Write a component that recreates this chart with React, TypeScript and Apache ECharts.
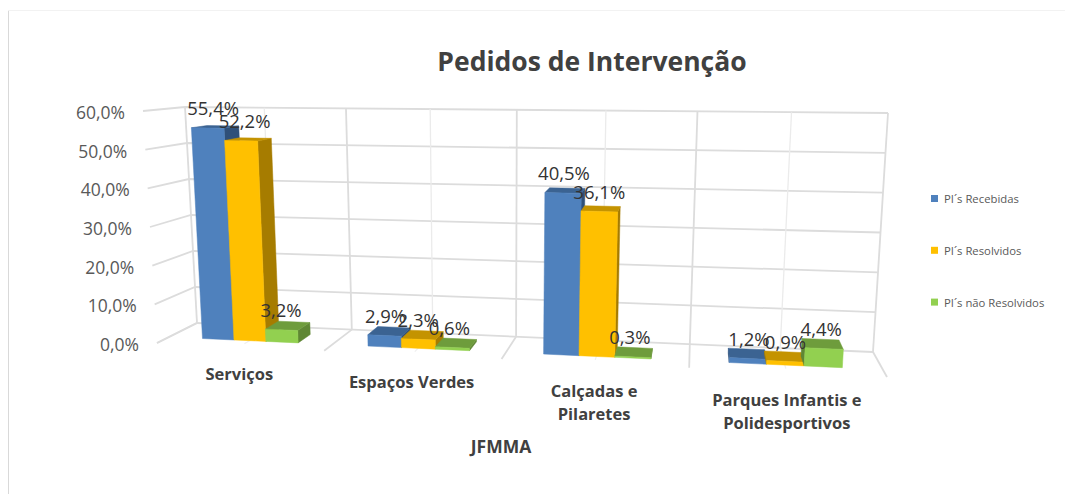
import React, { useEffect, useRef } from "react";
import * as echarts from "echarts";

const categories = ["Serviços", "Espaços Verdes", "Calçadas e\nPilaretes", "Parques Infantis e\nPolidesportivos"];
const seriesNames = ["PI´s Recebidas", "PI´s Resolvidos", "PI´s não Resolvidos"];
const recebidas = [55.4, 2.9, 40.5, 1.2];
const resolvidos = [52.2, 2.3, 36.1, 0.9];
const naoResolvidos = [3.2, 0.6, 0.3, 4.4];
const seriesValues = [recebidas, resolvidos, naoResolvidos];
const tickValues = [0, 10, 20, 30, 40, 50, 60];
const majorDivisions = [0, 1, 2, 3, 4];
const minorDivisions = [0.5, 1.5, 2.5, 3.5];

const faceColors = [
  { front: "#4F81BD", top: "#3B6392", side: "#2F5079" },
  { front: "#FFC000", top: "#C49300", side: "#A67C00" },
  { front: "#92D050", top: "#6E9C3C", side: "#5F8734" },
];
const FONT = '"Open Sans", sans-serif';
const grid = { left: 100, top: 100, width: 800, height: 240 };
const BAR_D0 = 0.3;
const BAR_D1 = 0.7;
const BAR_START = 0.21;
const BAR_WIDTH = 0.195;
const LABEL_DX = [1, 0, -3];

const corners = {
  f00: [157, 343], f10: [887, 377], f01: [143, 111], f11: [903, 122],
  b00: [197, 323], b10: [873, 352], b01: [185, 107], b11: [888, 113],
};
const lerp = (a: number, b: number, t: number) => a + (b - a) * t;
const warp = (u: number) => u * (0.888 + 0.112 * u);
function project(u: number, v: number, d: number): number[] {
  const w = warp(u);
  const c = corners;
  return [0, 1].map((k) =>
    lerp(
      lerp(lerp(c.f00[k], c.f10[k], w), lerp(c.f01[k], c.f11[k], w), v),
      lerp(lerp(c.b00[k], c.b10[k], w), lerp(c.b01[k], c.b11[k], w), v),
      d,
    ),
  );
}
const normV = (api: any, val: number) => (grid.top + grid.height - api.coord([0, val])[1]) / grid.height;
const normDiv = (api: any, div: number) => {
  const band = api.size([1, 0])[0];
  return (api.coord([0, 0])[0] - band / 2 + band * div - grid.left) / grid.width;
};

const barBox = (api: any, seriesIndex: number) => {
  const cat = api.value(0);
  const band = api.size([1, 0])[0];
  const x = api.coord([cat, 0])[0] - band / 2 + band * (BAR_START + BAR_WIDTH * seriesIndex);
  return { u0: (x - grid.left) / grid.width, u1: (x + band * BAR_WIDTH - grid.left) / grid.width, v: normV(api, api.value(1)) };
};

const poly = (pts: number[][], fill: string) => ({
  type: "polygon",
  silent: true,
  shape: { points: pts },
  style: { fill, stroke: fill, lineWidth: 0.5 },
});

const barRender = (seriesIndex: number) => (_: any, api: any) => {
  const { u0, u1, v } = barBox(api, seriesIndex);
  const col = faceColors[seriesIndex];
  const children: any[] = [];
  if (project(u0, v, BAR_D1)[0] < project(u0, v, BAR_D0)[0]) {
    children.push(poly([project(u0, 0, BAR_D0), project(u0, 0, BAR_D1), project(u0, v, BAR_D1), project(u0, v, BAR_D0)], col.side));
  }
  if (project(u1, v, BAR_D1)[0] > project(u1, v, BAR_D0)[0]) {
    children.push(poly([project(u1, 0, BAR_D0), project(u1, 0, BAR_D1), project(u1, v, BAR_D1), project(u1, v, BAR_D0)], col.side));
  }
  children.push(poly([project(u0, v, BAR_D0), project(u1, v, BAR_D0), project(u1, v, BAR_D1), project(u0, v, BAR_D1)], col.top));
  children.push(poly([project(u0, 0, BAR_D0), project(u1, 0, BAR_D0), project(u1, v, BAR_D0), project(u0, v, BAR_D0)], col.front));
  return { type: "group", children };
};

const fmt = (n: number) => n.toFixed(1).replace(".", ",") + "%";

const labelRender = (seriesIndex: number) => (_: any, api: any) => {
  const { u0, u1, v } = barBox(api, seriesIndex);
  const u = (u0 + u1) / 2;
  const p = project(u, v, BAR_D0);
  const dx = LABEL_DX[seriesIndex] + 6 * Math.max(0, 1 - u / 0.3);
  return {
    type: "text",
    silent: true,
    style: {
      x: p[0] + dx, y: p[1] - 20, text: fmt(api.value(1)), fill: "#333333",
      font: `18.5px ${FONT}`, align: "center", verticalAlign: "middle",
    },
  };
};

const line = (a: number[], b: number[], stroke: string, lineWidth: number) => ({
  type: "line", silent: true,
  shape: { x1: a[0], y1: a[1], x2: b[0], y2: b[1] },
  style: { stroke, lineWidth },
});

const tickRender = (_: any, api: any) => {
  const val = api.value(1);
  const v = normV(api, val);
  const f = project(0, v, 0);
  return {
    type: "group",
    children: [
      { type: "polyline", silent: true, shape: { points: [f, project(0, v, 1), project(1, v, 1)] }, style: { fill: "none", stroke: "#DCDCDC", lineWidth: 1.8 } },
      { type: "text", silent: true, style: { x: f[0] - 18, y: f[1] + 1, text: fmt(val), fill: "#595959", font: `17.5px ${FONT}`, align: "right", verticalAlign: "middle" } },
    ],
  };
};

const majorRender = (_: any, api: any) => {
  const u = normDiv(api, api.value(0));
  return {
    type: "group",
    children: [
      line(project(u, 0, 1), project(u, 1, 1), "#DCDCDC", 1.8),
      line(project(u, 0, 0), project(u, 0, 1), "#DCDCDC", 1.8),
    ],
  };
};

const minorRender = (_: any, api: any) => {
  const u = normDiv(api, api.value(0));
  return {
    type: "group",
    children: [
      line(project(u, 0, 1), project(u, 1, 1), "#EBEBEB", 1.3),
      line(project(u, 0, 0.15), project(u, 0, 1), "#EFEFEF", 1.3),
    ],
  };
};

const catRender = (_: any, api: any) => {
  const idx = api.value(0);
  const u = normDiv(api, idx + 0.5);
  const p = project(u, 0, 0);
  return {
    type: "text",
    silent: true,
    style: {
      x: p[0], y: p[1] + 15, text: categories[idx], fill: "#404040",
      font: `bold 16.5px ${FONT}`, align: "center", verticalAlign: "top", lineHeight: 23.5,
    },
  };
};

export default function App() {
  const ref = useRef<HTMLDivElement>(null);
  useEffect(() => {
    const chart = echarts.init(ref.current!, undefined, { renderer: "svg" });
    const custom = (name: string, z: number, data: any[], renderItem: any, extra: any = {}) => ({
      type: "custom", name, z, data, renderItem, clip: false, silent: true,
      encode: { x: 0, y: 1 }, ...extra,
    });
    chart.setOption({
      animation: false,
      backgroundColor: "#ffffff",
      title: {
        text: "Pedidos de Intervenção", left: 587, top: 42, textAlign: "center",
        textStyle: { fontFamily: FONT, fontWeight: "bold", fontSize: 26.5, color: "#404040" },
      },
      legend: {
        orient: "vertical", left: 926, top: 188, icon: "rect", itemWidth: 7, itemHeight: 7, itemGap: 40.8,
        data: seriesNames, selectedMode: false,
        textStyle: { fontFamily: FONT, fontSize: 11.3, color: "#595959", padding: [0, 0, 0, 1] },
      },
      grid: { ...grid, containLabel: false },
      xAxis: { type: "category", data: categories, show: false },
      yAxis: { type: "value", min: 0, max: 60, interval: 10, show: false },
      graphic: [
        { type: "line", silent: true, shape: { x1: 8.5, y1: 10, x2: 8.5, y2: 494 }, style: { stroke: "#D9D9D9", lineWidth: 1 } },
        { type: "line", silent: true, shape: { x1: 8, y1: 10.5, x2: 1065, y2: 10.5 }, style: { stroke: "#F2F2F2", lineWidth: 1 } },
        { type: "text", silent: true, style: { x: 501, y: 446, text: "JFMMA", fill: "#404040", font: `bold 17.5px ${FONT}`, align: "center", verticalAlign: "middle" } },
      ],
      series: [
        custom("ticks", 1, tickValues.map((v) => [0, v]), tickRender),
        custom("major", 1, majorDivisions.map((d) => [d, 0]), majorRender),
        custom("minor", 1, minorDivisions.map((d) => [d, 0]), minorRender),
        custom("cats", 1, categories.map((_, i) => [i, 0]), catRender),
        ...seriesNames.map((name, i) =>
          custom(name, 2 + i, seriesValues[i].map((v, c) => [c, v]), barRender(i), { itemStyle: { color: faceColors[i].front } }),
        ),
        ...seriesNames.map((name, i) =>
          custom(`${name} rótulos`, 6, seriesValues[i].map((v, c) => [c, v]), labelRender(i)),
        ),
      ],
    });
    return () => chart.dispose();
  }, []);
  return <div ref={ref} style={{ position: "fixed", left: 0, top: 0, width: 1065, height: 494 }} />;
}
